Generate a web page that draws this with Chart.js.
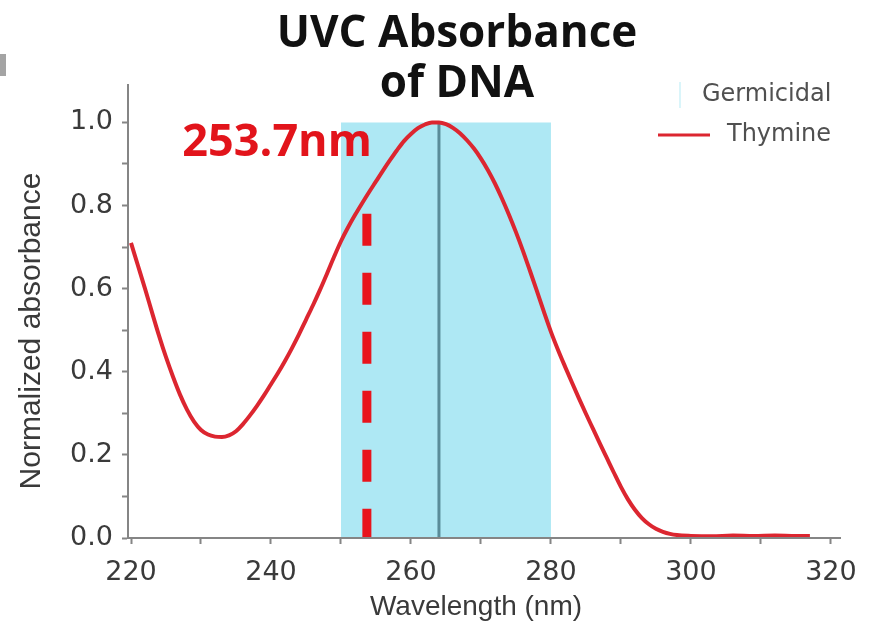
<!DOCTYPE html>
<html>
<head>
<meta charset="utf-8">
<script src="https://cdn.jsdelivr.net/npm/chart.js@4.4.1/dist/chart.umd.min.js"></script>
<style>
  html, body { margin: 0; padding: 0; background: #ffffff; }
  #wrap { width: 878px; height: 630px; }
</style>
</head>
<body>
<div id="wrap"><canvas id="chart" width="878" height="630"></canvas></div>
<script>
// Thymine absorbance spectrum (normalized), wavelength in nm
const wavelengths = [
  220, 221, 222, 223, 224, 225, 226, 227, 228, 229,
  230, 231, 232, 233, 234, 235, 236, 237, 238, 239,
  240, 241, 242, 243, 244, 245, 246, 247, 248, 249,
  250, 251, 252, 253, 254, 255, 256, 257, 258, 259,
  260, 261, 262, 263, 264, 265, 266, 267, 268, 269,
  270, 271, 272, 273, 274, 275, 276, 277, 278, 279,
  280, 281, 282, 283, 284, 285, 286, 287, 288, 289,
  290, 291, 292, 293, 294, 295, 296, 297, 298,
  300, 303, 306, 309, 312, 315, 317
];
const thymine = [
  0.710, 0.655, 0.600, 0.543, 0.487, 0.435, 0.388, 0.345, 0.309, 0.280,
  0.260, 0.249, 0.244, 0.243, 0.247, 0.257, 0.274, 0.295, 0.318, 0.343,
  0.370, 0.397, 0.426, 0.457, 0.490, 0.525, 0.560, 0.597, 0.636, 0.676,
  0.714, 0.747, 0.777, 0.805, 0.832, 0.858, 0.884, 0.909, 0.933, 0.955,
  0.972, 0.986, 0.995, 1.000, 1.000, 0.996, 0.987, 0.974, 0.957, 0.937,
  0.913, 0.885, 0.853, 0.817, 0.778, 0.736, 0.691, 0.643, 0.594, 0.544,
  0.496, 0.453, 0.413, 0.374, 0.336, 0.299, 0.263, 0.227, 0.192, 0.157,
  0.123, 0.093, 0.068, 0.048, 0.033, 0.022, 0.015, 0.010, 0.007,
  0.005, 0.004, 0.006, 0.005, 0.006, 0.005, 0.005
];

// Germicidal range, absorbance peak and the mercury lamp line
const germicidalRange = [250, 280];
const germicidalTop = 1.0;
const peakWavelength = 264;
const lampWavelength = 253.7;
const lampLineTop = 0.78;

// Axis ticks
const xTickValues = [220, 230, 240, 250, 260, 270, 280, 290, 300, 310, 320];
const yTickValues = [0, 0.1, 0.2, 0.3, 0.4, 0.5, 0.6, 0.7, 0.8, 0.9, 1.0];

const titleLines = ['UVC Absorbance', 'of DNA'];
const xTitle = 'Wavelength (nm)';
const yTitle = 'Normalized absorbance';

const AXIS_GREY = '#858585';
const TEXT_GREY = '#3a3a3a';

const thymineData = wavelengths.map((w, i) => ({ x: w, y: thymine[i] }));

const decorations = {
  id: 'decorations',
  beforeDraw(chart) {
    const ctx = chart.ctx;
    ctx.save();
    ctx.fillStyle = '#ffffff';
    ctx.fillRect(0, 0, chart.width, chart.height);
    // small grey tab at the left edge
    ctx.fillStyle = '#a4a4a4';
    ctx.fillRect(0, 54, 6, 22);
    ctx.restore();
  },
  afterDraw(chart) {
    const { ctx, scales: { x, y } } = chart;
    ctx.save();

    // two-line title
    ctx.fillStyle = '#111111';
    ctx.font = 'bold 44px "Open Sans"';
    ctx.textAlign = 'center';
    ctx.textBaseline = 'alphabetic';
    ctx.fillText(titleLines[0], 457, 47);
    ctx.fillText(titleLines[1], 457, 97);

    // lamp wavelength label
    ctx.fillStyle = '#e2141b';
    ctx.font = 'bold 45px "Open Sans"';
    ctx.textAlign = 'right';
    ctx.fillText(lampWavelength + 'nm', x.getPixelForValue(lampWavelength) + 5, 156);

    // axis titles
    ctx.fillStyle = TEXT_GREY;
    ctx.font = '28px "Liberation Sans"';
    ctx.textAlign = 'center';
    ctx.textBaseline = 'middle';
    ctx.fillText(xTitle, 476, 607);

    ctx.save();
    ctx.translate(32, 331);
    ctx.rotate(-Math.PI / 2);
    ctx.font = '30px "Liberation Sans"';
    ctx.fillText(yTitle, 0, 0);
    ctx.restore();

    // legend
    const band = chart.data.datasets[3];
    const curve = chart.data.datasets[0];
    ctx.fillStyle = 'rgba(174,232,244,0.45)';
    ctx.fillRect(679, 82, 2, 26);
    ctx.strokeStyle = curve.borderColor;
    ctx.lineWidth = 3;
    ctx.beginPath();
    ctx.moveTo(658, 135);
    ctx.lineTo(710, 135);
    ctx.stroke();
    ctx.fillStyle = '#505050';
    ctx.font = '24px "DejaVu Sans"';
    ctx.textAlign = 'left';
    ctx.textBaseline = 'middle';
    ctx.fillText(band.label, 702, 95);
    ctx.fillText(curve.label, 727, 135);

    ctx.restore();
  }
};

new Chart(document.getElementById('chart'), {
  type: 'line',
  data: {
    datasets: [
      {
        label: 'Thymine',
        data: thymineData,
        borderColor: '#dc2630',
        borderWidth: 4,
        pointRadius: 0,
        cubicInterpolationMode: 'monotone',
        fill: false
      },
      {
        label: 'Lamp line',
        data: [{ x: lampWavelength, y: lampLineTop }, { x: lampWavelength, y: 0 }],
        borderColor: '#e8141c',
        borderWidth: 9,
        borderDash: [32, 27],
        borderCapStyle: 'butt',
        pointRadius: 0,
        fill: false
      },
      {
        label: 'Peak',
        data: [{ x: peakWavelength, y: germicidalTop }, { x: peakWavelength, y: 0 }],
        borderColor: '#5a8c99',
        borderWidth: 3,
        pointRadius: 0,
        fill: false
      },
      {
        label: 'Germicidal',
        data: [{ x: germicidalRange[0], y: germicidalTop }, { x: germicidalRange[1], y: germicidalTop }],
        borderWidth: 0,
        borderColor: 'rgba(0,0,0,0)',
        backgroundColor: '#aee8f4',
        pointRadius: 0,
        fill: 'origin'
      }
    ]
  },
  options: {
    responsive: false,
    animation: false,
    layout: { padding: { top: 85, right: 38, left: 0, bottom: 0 } },
    plugins: {
      legend: { display: false },
      tooltip: { enabled: false },
      title: { display: false }
    },
    scales: {
      x: {
        type: 'linear',
        min: 219.57,
        max: 321.3,
        afterFit(scale) { scale.height = 92; },
        afterBuildTicks(scale) { scale.ticks = xTickValues.map(v => ({ value: v })); },
        border: { display: true, color: AXIS_GREY, width: 2, z: 1 },
        grid: {
          drawOnChartArea: false,
          drawTicks: true,
          tickLength: 6,
          tickWidth: 2,
          tickColor: AXIS_GREY
        },
        ticks: {
          autoSkip: false,
          maxRotation: 0,
          padding: 13,
          color: TEXT_GREY,
          font: { family: 'DejaVu Sans', size: 27 },
          callback: (v) => (v % 20 === 0 ? String(v) : '')
        }
      },
      y: {
        type: 'linear',
        min: 0,
        max: 1.09,
        afterFit(scale) { scale.width = 128; },
        afterBuildTicks(scale) { scale.ticks = yTickValues.map(v => ({ value: v })); },
        border: { display: true, color: AXIS_GREY, width: 2, z: 1 },
        grid: {
          drawOnChartArea: false,
          drawTicks: true,
          tickLength: 6,
          tickWidth: 2,
          tickColor: AXIS_GREY
        },
        ticks: {
          autoSkip: false,
          padding: 9,
          color: TEXT_GREY,
          font: { family: 'DejaVu Sans', size: 27 },
          callback: (v) => (Math.round(v * 10) % 2 === 0 ? v.toFixed(1) : '')
        }
      }
    }
  },
  plugins: [decorations]
});
</script>
</body>
</html>
